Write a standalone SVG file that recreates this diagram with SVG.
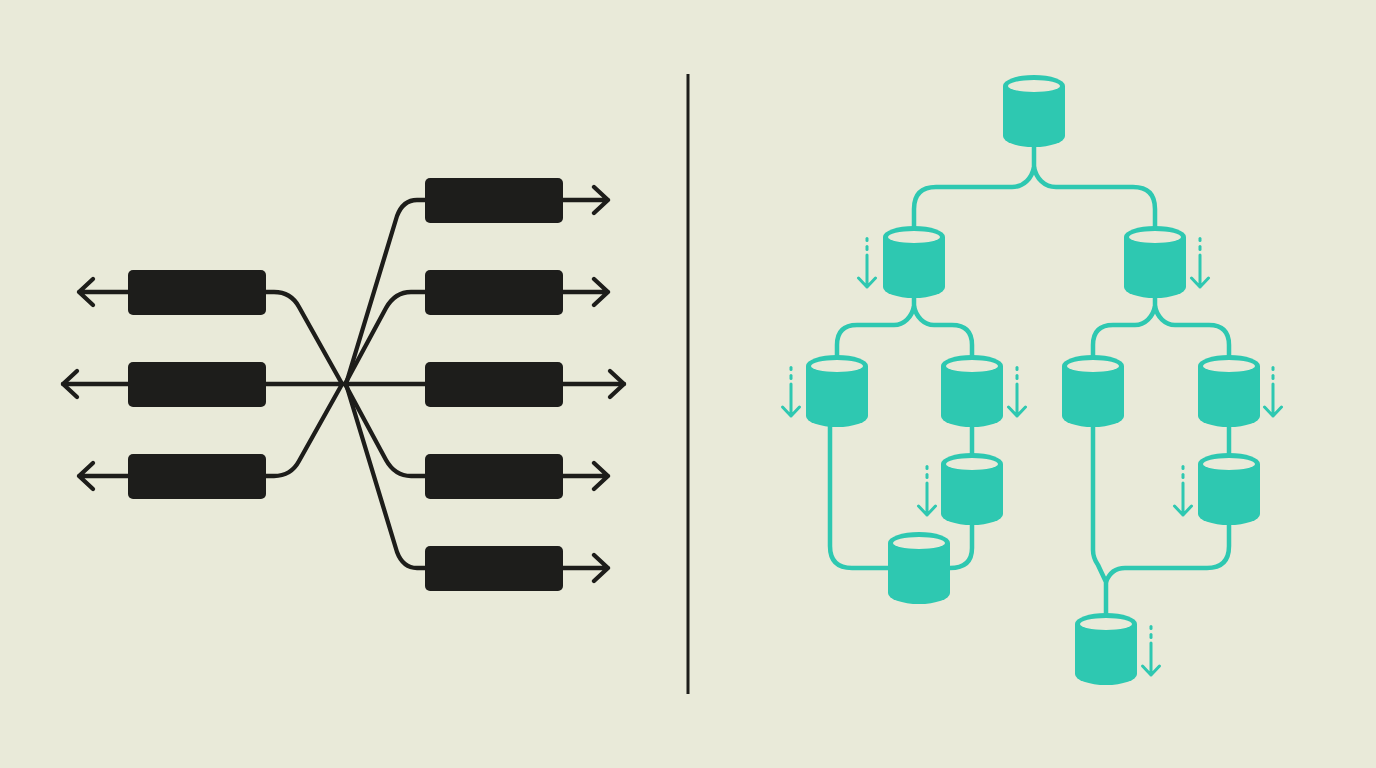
<svg xmlns="http://www.w3.org/2000/svg" width="1376" height="768" viewBox="0 0 1376 768">
<style>
.k{fill:none;stroke:#1d1d1a;stroke-width:4.300;stroke-linecap:round;stroke-linejoin:round}
.t{fill:none;stroke:#2ec8b1;stroke-width:4.500;stroke-linecap:butt}
.b{fill:#1d1d1b}
.a{fill:none;stroke:#2ec8b1;stroke-width:3;stroke-linecap:round;stroke-linejoin:round}
.d{fill:#2ec8b1}
.h{fill:#e9ead9}
</style>
<defs>
<g id="cyl">
<path class="d" d="M0 11A31 11 0 0 1 62 11V61A31 11 0 0 1 0 61Z"/>
<ellipse class="h" cx="31" cy="11" rx="26" ry="6"/>
</g>
<g id="drop">
<rect class="d" x="-1.500" y="-2" width="3" height="5" rx="1.500"/>
<rect class="d" x="-1.500" y="6" width="3" height="6" rx="1.500"/>
<path class="a" d="M0 16V48M-8.500 39L0 48L8.500 39"/>
</g>
<rect id="box" class="b" width="138" height="45" rx="5"/>
</defs>
<rect width="1376" height="768" fill="#e9ead9"/>
<g id="divider"><path d="M688 74V694" stroke="#1d1d1a" stroke-width="3" fill="none"/></g>
<g id="connectors">
<path class="k" d="M266 292H274Q291 292 299 307L341 382V386L299 461Q291 476 274 476H266"/>
<path class="k" d="M63 384H624"/>
<path class="k" d="M128 292H79M93 279L79 292L93 305"/>
<path class="k" d="M128 476H79M93 463L79 476L93 489"/>
<path class="k" d="M77 371L63 384L77 397"/>
<path class="k" d="M346 384L397 216Q403 200 417 200H608M594 187L608 200L594 213"/>
<path class="k" d="M345 384L386 308Q395 292 411 292H608M594 279L608 292L594 305"/>
<path class="k" d="M610 371L624 384L610 397"/>
<path class="k" d="M345 384L386 460Q395 476 411 476H608M594 463L608 476L594 489"/>
<path class="k" d="M346 384L397 552Q403 568 417 568H608M594 555L608 568L594 581"/>
<path class="t" d="M1034 145V167C1032 178 1024 187 1012 187H936Q914 187 914 209V228"/>
<path class="t" d="M1034 167C1036 178 1044 187 1056 187H1133Q1155 187 1155 209V228"/>
<path class="t" d="M914 295V306C912 317 904 325 894 325H857Q837 325 837 345V357"/>
<path class="t" d="M914 306C916 317 924 325 934 325H952Q972 325 972 345V357"/>
<path class="t" d="M1155 295V306C1153 317 1145 325 1135 325H1113Q1093 325 1093 345V357"/>
<path class="t" d="M1155 306C1157 317 1165 325 1175 325H1209Q1229 325 1229 345V357"/>
<path class="t" d="M972 425V455"/>
<path class="t" d="M1229 425V455"/>
<path class="t" d="M830 425V546Q830 568 852 568H891"/>
<path class="t" d="M972 522V548Q972 568 950 568"/>
<path class="t" d="M1093 425V550Q1093 558 1098 565L1106 582V615"/>
<path class="t" d="M1229 522V546Q1229 568 1207 568H1125Q1111 568 1106 582"/>
</g>
<g id="left-1"><use href="#box" x="128" y="270"/></g>
<g id="left-2"><use href="#box" x="128" y="362"/></g>
<g id="left-3"><use href="#box" x="128" y="454"/></g>
<g id="right-1"><use href="#box" x="425" y="178"/></g>
<g id="right-2"><use href="#box" x="425" y="270"/></g>
<g id="right-3"><use href="#box" x="425" y="362"/></g>
<g id="right-4"><use href="#box" x="425" y="454"/></g>
<g id="right-5"><use href="#box" x="425" y="546"/></g>
<g id="db-root"><use href="#cyl" x="1003" y="75"/></g>
<g id="db-a"><use href="#cyl" x="883" y="226"/><use href="#drop" x="867" y="239"/></g>
<g id="db-b"><use href="#cyl" x="1124" y="226"/><use href="#drop" x="1200" y="239"/></g>
<g id="db-c"><use href="#cyl" x="806" y="355"/><use href="#drop" x="791" y="368"/></g>
<g id="db-d"><use href="#cyl" x="941" y="355"/><use href="#drop" x="1017" y="368"/></g>
<g id="db-e"><use href="#cyl" x="1062" y="355"/></g>
<g id="db-f"><use href="#cyl" x="1198" y="355"/><use href="#drop" x="1273" y="368"/></g>
<g id="db-g"><use href="#cyl" x="941" y="453"/><use href="#drop" x="927" y="467"/></g>
<g id="db-h"><use href="#cyl" x="1198" y="453"/><use href="#drop" x="1183" y="467"/></g>
<g id="db-i"><use href="#cyl" x="888" y="532"/></g>
<g id="db-j"><use href="#cyl" x="1075" y="613"/><use href="#drop" x="1151" y="627"/></g>
</svg>
